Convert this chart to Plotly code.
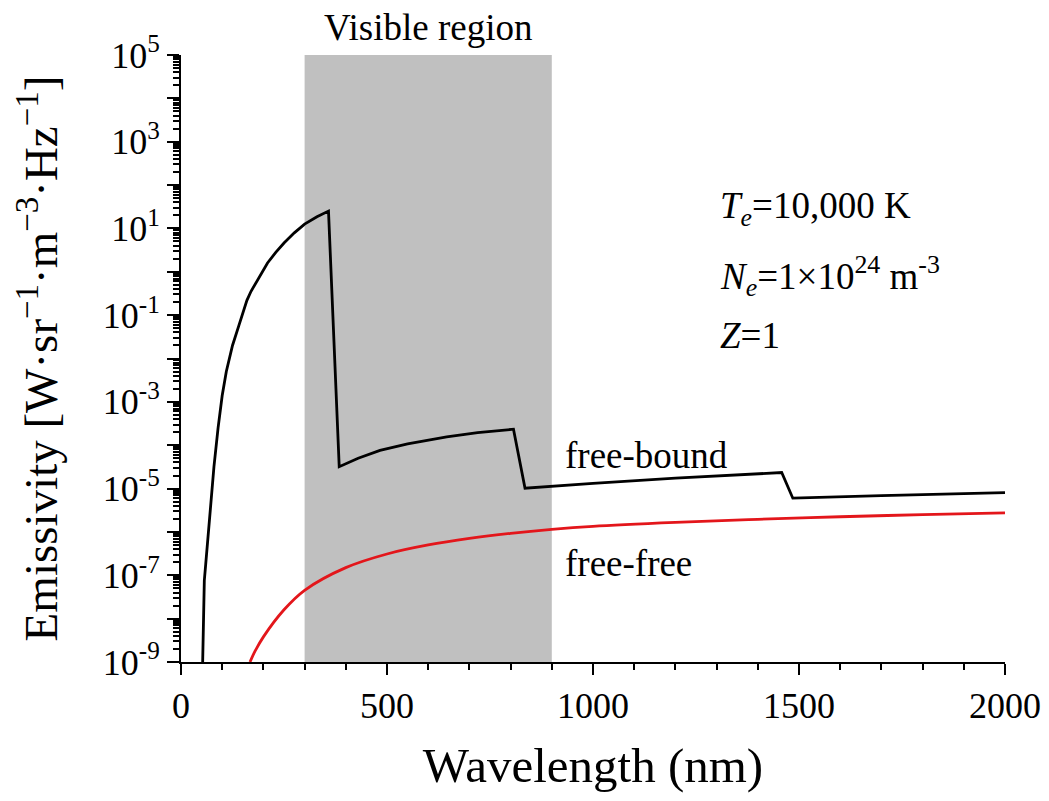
import plotly.graph_objects as go

# free-bound emissivity (black curve)
fb_wavelength = [52.6, 56.6, 60, 70, 80, 90, 100, 110, 125, 140, 160, 170, 185, 195, 210, 230, 250, 275, 300, 330, 358,
                 384, 430, 483, 550, 645, 720, 807,
                 835, 1000, 1200, 1458,
                 1485, 1700, 2000]
fb_emissivity = [1.0e-9, 7.6e-8, 1.8e-7, 2.5e-6, 3.2e-5, 2.5e-4, 1.4e-3, 5.0e-3, 2.0e-2, 5.6e-2, 0.22, 0.355, 0.63, 0.89,
                 1.6, 2.8, 4.6, 7.9, 12.6, 18.6, 25.1,
                 3.2e-5, 5.0e-5, 7.6e-5, 1.07e-4, 1.55e-4, 1.95e-4, 2.34e-4,
                 1.02e-5, 1.32e-5, 1.74e-5, 2.34e-5,
                 6.0e-6, 6.9e-6, 8.1e-6]

# free-free emissivity (red curve)
ff_wavelength = [167.5, 180, 200, 250, 300, 400, 500, 600, 700, 800, 900, 1000, 1200, 1400, 1600, 1800, 2000]
ff_emissivity = [1.0e-9, 1.8e-9, 3.8e-9, 1.6e-8, 4.5e-8, 1.5e-7, 3.1e-7, 5.0e-7, 7.1e-7, 9.3e-7, 1.15e-6,
                 1.35e-6, 1.66e-6, 1.95e-6, 2.24e-6, 2.5e-6, 2.75e-6]

visible_band = [300, 900]

y_exponents = list(range(-9, 6))
x_ticks = [0, 500, 1000, 1500, 2000]

serif = "Liberation Serif"

fig = go.Figure()

fig.add_shape(type="rect", xref="x", yref="paper",
              x0=visible_band[0], x1=visible_band[1], y0=0, y1=1,
              fillcolor="#c0c0c0", line_width=0, layer="below")

fig.add_trace(go.Scatter(x=fb_wavelength, y=fb_emissivity, mode="lines",
                         line=dict(color="black", width=2.8), name="free-bound"))
fig.add_trace(go.Scatter(x=ff_wavelength, y=ff_emissivity, mode="lines",
                         line=dict(color="#e3161b", width=2.8, shape="spline", smoothing=1),
                         name="free-free"))

# tick labels only on odd decades, like the original
y_tickvals = [10.0 ** e for e in y_exponents]
y_ticktext = [f"10<sup>{e}</sup>" if e % 2 else "" for e in y_exponents]
y_minor = [k * 10.0 ** e for e in y_exponents[:-1] for k in range(2, 10)]

fig.update_layout(
    width=1049, height=801,
    margin=dict(l=173, r=52, t=47, b=147),
    paper_bgcolor="white", plot_bgcolor="white",
    showlegend=False,
    font=dict(family=serif, color="black", size=36),
    xaxis=dict(
        range=[0, 2000], tickmode="array", tickvals=x_ticks,
        ticks="outside", ticklen=11, tickwidth=2, tickcolor="black",
        minor=dict(dtick=100, tick0=0, ticks="outside", ticklen=6, tickwidth=2, tickcolor="black"),
        showline=True, linecolor="black", linewidth=2,
        showgrid=False, zeroline=False, automargin=False,
        tickfont=dict(family=serif, size=36, color="black"),
        title=dict(text="Wavelength (nm)", font=dict(family=serif, size=49), standoff=22),
    ),
    yaxis=dict(
        type="log", range=[-9, 5],
        tickmode="array", tickvals=y_tickvals, ticktext=y_ticktext,
        ticks="outside", ticklen=12, tickwidth=2, tickcolor="black",
        minor=dict(tickmode="array", tickvals=y_minor, ticks="outside", ticklen=6,
                   tickwidth=1.5, tickcolor="black"),
        showline=True, linecolor="black", linewidth=2,
        showgrid=False, zeroline=False, automargin=False,
        tickfont=dict(family=serif, size=36, color="black"),
        title=dict(text="Emissivity [W·sr<sup>−1</sup>·m<sup>−3</sup>·Hz<sup>−1</sup>]",
                   font=dict(family=serif, size=47), standoff=30),
    ),
)

fig.add_annotation(text="Visible region", x=600, xref="x", y=1.0, yref="paper",
                   yanchor="middle", yshift=28, showarrow=False,
                   font=dict(family=serif, size=37))
fig.add_annotation(text="free-bound", x=927, xref="x", y=-4.23, yref="y",
                   xanchor="left", showarrow=False, font=dict(family=serif, size=37))
fig.add_annotation(text="free-free", x=927, xref="x", y=-6.72, yref="y",
                   xanchor="left", showarrow=False, font=dict(family=serif, size=37))

params = ["<i>T</i><sub><i>e</i></sub>=10,000 K",
          "<i>N</i><sub><i>e</i></sub>=1×10<sup>24</sup> m<sup>-3</sup>",
          "<i>Z</i>=1"]
params_y = [1.45, -0.1, -1.46]
for txt, yy in zip(params, params_y):
    fig.add_annotation(text=txt, x=1303, xref="x", y=yy, yref="y",
                       xanchor="left", showarrow=False, font=dict(family=serif, size=37))

fig.write_html("out.html")
